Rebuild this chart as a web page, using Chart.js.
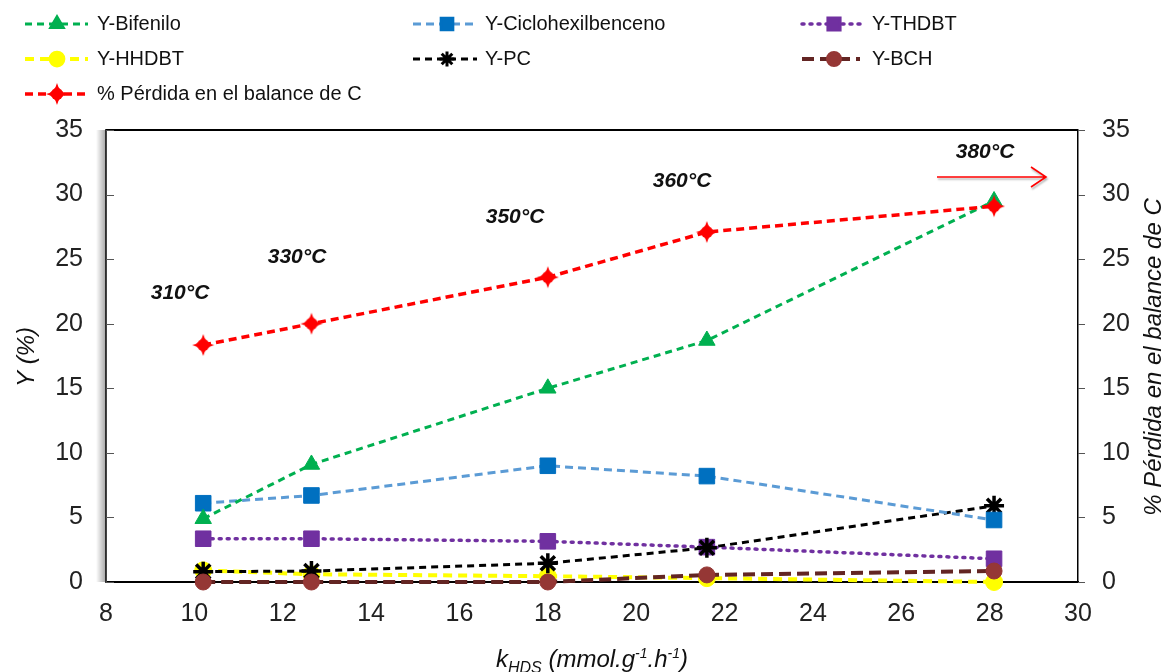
<!DOCTYPE html>
<html>
<head>
<meta charset="utf-8">
<script src="https://cdn.jsdelivr.net/npm/chart.js@4"></script>
<style>
  body { margin: 0; background: #fff; }
  #wrap { width: 1167px; height: 672px; position: relative; }
</style>
</head>
<body>
<div id="wrap"><canvas id="chart"></canvas></div>
<script>
// x values (k_HDS) and one array per series
const kHDS = [10.2, 12.65, 18.0, 21.6, 28.1];
const bifenilo = [4.9, 9.1, 15.0, 18.7, 29.5];
const ciclohexilbenceno = [6.1, 6.7, 9.0, 8.2, 4.8];
const thdbt = [3.35, 3.35, 3.15, 2.7, 1.8];
const hhdbt = [0.9, 0.6, 0.45, 0.3, 0.0];
const pc = [0.8, 0.85, 1.45, 2.65, 5.9];
const bch = [0.0, 0.0, 0.0, 0.55, 0.85];
const perdidaC = [18.35, 20.0, 23.6, 27.1, 29.1];

const tempLabels = ["310°C", "330°C", "350°C", "360°C", "380°C"];
const xTicks = [8, 10, 12, 14, 16, 18, 20, 22, 24, 26, 28, 30];

const AXIS_FONT = "Arial, 'Liberation Sans', sans-serif";

function pts(ys) {
  return kHDS.map((x, i) => ({ x, y: ys[i] }));
}

// concave four point marker for the red series
function makeStar(color, r) {
  const c = document.createElement("canvas");
  c.width = c.height = r * 2 + 2;
  const g = c.getContext("2d");
  const m = r + 1;
  g.fillStyle = color;
  g.beginPath();
  g.moveTo(m, m - r);
  g.quadraticCurveTo(m + 2, m - 2, m + r, m);
  g.quadraticCurveTo(m + 2, m + 2, m, m + r);
  g.quadraticCurveTo(m - 2, m + 2, m - r, m);
  g.quadraticCurveTo(m - 2, m - 2, m, m - r);
  g.fill();
  g.beginPath();
  g.arc(m, m, r * 0.55, 0, Math.PI * 2);
  g.fill();
  return c;
}
const redStar = makeStar("#FF0000", 11);

const series = [
  { label: "Y-Bifenilo", data: bifenilo, color: "#00B050", marker: "#00B050", dash: [7, 5], width: 3, style: "triangle", radius: 9.5, order: 1, col: 0, row: 0 },
  { label: "Y-Ciclohexilbenceno", data: ciclohexilbenceno, color: "#5B9BD5", marker: "#0070C0", dash: [8, 5], width: 3, style: "rect", radius: 11, order: 2, col: 1, row: 0 },
  { label: "Y-THDBT", data: thdbt, color: "#7030A0", marker: "#7030A0", dash: [2, 6], width: 3.5, style: "rect", radius: 11, order: 5, col: 2, row: 0, cap: "round" },
  { label: "Y-HHDBT", data: hhdbt, color: "#FFFF00", marker: "#FFFF00", dash: [9, 6], width: 4, style: "circle", radius: 8.5, order: 6, col: 0, row: 1 },
  { label: "Y-PC", data: pc, color: "#000000", marker: "#000000", dash: [7, 5], width: 3, style: "star", radius: 10, order: 4, col: 1, row: 1 },
  { label: "Y-BCH", data: bch, color: "#632523", marker: "#953735", dash: [12, 6], width: 4, style: "circle", radius: 8, order: 3, col: 2, row: 1 },
  { label: "% Pérdida en el balance de C", data: perdidaC, color: "#FF0000", marker: "#FF0000", dash: [8, 5], width: 3.5, style: redStar, radius: 11, order: 0, col: 0, row: 2, axis: "y2" },
];

const datasets = series.map((s) => ({
  label: s.label,
  data: pts(s.data),
  yAxisID: s.axis || "y",
  borderColor: s.color,
  borderWidth: s.width,
  borderDash: s.dash,
  borderCapStyle: s.cap || "butt",
  backgroundColor: s.marker,
  pointBackgroundColor: s.marker,
  pointBorderColor: s.marker,
  pointBorderWidth: s.style === "star" ? 3.5 : 1,
  pointStyle: s.style,
  pointRadius: s.radius,
  pointHoverRadius: s.radius,
  order: s.order,
  tension: 0,
  fill: false,
  clip: false,
}));

const legendCols = [
  { x0: 25, x1: 88, mx: 57, tx: 97 },
  { x0: 413, x1: 477, mx: 447, tx: 485 },
  { x0: 802, x1: 860, mx: 834, tx: 872 },
];
const legendRows = [24, 59, 94];

const decorPlugin = {
  id: "decor",
  beforeDatasetsDraw(chart) {
    const { ctx, chartArea: a } = chart;
    ctx.save();
    // shadow to the left of the value axis
    const grad = ctx.createLinearGradient(a.left - 10, 0, a.left, 0);
    grad.addColorStop(0, "rgba(0,0,0,0)");
    grad.addColorStop(1, "rgba(0,0,0,0.35)");
    ctx.fillStyle = grad;
    ctx.fillRect(a.left - 10, a.top, 10, a.bottom - a.top);
    ctx.restore();
  },
  afterDraw(chart) {
    const { ctx, chartArea: a, scales } = chart;
    ctx.save();

    // frame top line
    ctx.strokeStyle = "#000";
    ctx.lineWidth = 2;
    ctx.beginPath();
    ctx.moveTo(a.left, a.top);
    ctx.lineTo(a.right, a.top);
    ctx.stroke();

    // tick marks: left inward, right outward
    ctx.lineWidth = 1;
    ctx.strokeStyle = "#555";
    scales.y.ticks.forEach((t) => {
      const py = Math.round(scales.y.getPixelForValue(t.value)) + 0.5;
      ctx.beginPath();
      ctx.moveTo(a.left, py);
      ctx.lineTo(a.left + 8, py);
      ctx.stroke();
    });
    scales.y2.ticks.forEach((t) => {
      const py = Math.round(scales.y2.getPixelForValue(t.value)) + 0.5;
      ctx.beginPath();
      ctx.moveTo(a.right, py);
      ctx.lineTo(a.right + 7, py);
      ctx.stroke();
    });

    // axis titles
    ctx.fillStyle = "#111";
    ctx.textAlign = "center";
    ctx.textBaseline = "middle";
    ctx.font = "italic 24px " + AXIS_FONT;
    ctx.save();
    ctx.translate(27, 357);
    ctx.rotate(-Math.PI / 2);
    ctx.fillText("Y (%)", 0, 0);
    ctx.restore();

    ctx.save();
    ctx.translate(1154, 357);
    ctx.rotate(-Math.PI / 2);
    ctx.fillText("% Pérdida en el balance de C", 0, 0);
    ctx.restore();

    // x title with sub/superscripts
    const parts = [
      ["k", 24, 0], ["HDS", 16, 6], [" (mmol.g", 24, 0], ["-1", 14, -9], [".h", 24, 0], ["-1", 14, -9], [")", 24, 0],
    ];
    let total = 0;
    parts.forEach(([t, s]) => {
      ctx.font = "italic " + s + "px " + AXIS_FONT;
      total += ctx.measureText(t).width;
    });
    let cx = 592 - total / 2;
    ctx.textAlign = "left";
    ctx.textBaseline = "alphabetic";
    parts.forEach(([t, s, dy]) => {
      ctx.font = "italic " + s + "px " + AXIS_FONT;
      ctx.fillText(t, cx, 667 + dy);
      cx += ctx.measureText(t).width;
    });

    // temperature labels above the points of the red series
    const tempPos = [[180, 293], [297, 257], [515, 217], [682, 181], [985, 152]];
    ctx.font = "italic bold 21px " + AXIS_FONT;
    ctx.textAlign = "center";
    ctx.textBaseline = "middle";
    tempLabels.forEach((t, i) => ctx.fillText(t, tempPos[i][0], tempPos[i][1]));

    // arrow pointing to the right axis
    ctx.strokeStyle = "#FF0000";
    ctx.lineWidth = 1.6;
    ctx.shadowColor = "rgba(0,0,0,0.3)";
    ctx.shadowOffsetX = 1;
    ctx.shadowOffsetY = 2;
    ctx.shadowBlur = 2;
    ctx.beginPath();
    ctx.moveTo(937, 177);
    ctx.lineTo(1046, 177);
    ctx.moveTo(1031, 167);
    ctx.lineTo(1046, 177);
    ctx.lineTo(1031, 187);
    ctx.stroke();
    ctx.shadowColor = "transparent";

    // legend
    ctx.font = "20px " + AXIS_FONT;
    ctx.textAlign = "left";
    ctx.textBaseline = "middle";
    series.forEach((s) => {
      const c = legendCols[s.col];
      const y = legendRows[s.row];
      ctx.strokeStyle = s.color;
      ctx.lineWidth = s.width;
      ctx.lineCap = s.cap || "butt";
      ctx.setLineDash(s.dash);
      ctx.beginPath();
      ctx.moveTo(c.x0, y);
      ctx.lineTo(c.x1, y);
      ctx.stroke();
      ctx.setLineDash([]);
      ctx.lineCap = "butt";
      ctx.fillStyle = s.marker;
      ctx.strokeStyle = s.marker;
      Chart.helpers.drawPoint(ctx, {
        pointStyle: s.style,
        radius: s.radius * 0.75,
        rotation: 0,
        borderWidth: s.style === "star" ? 3.5 : 1,
      }, c.mx, y);
      ctx.fillStyle = "#111";
      ctx.fillText(s.label, c.tx, y);
    });

    ctx.restore();
  },
};

new Chart(document.getElementById("chart"), {
  type: "line",
  data: { datasets },
  options: {
    responsive: true,
    maintainAspectRatio: false,
    animation: false,
    layout: { padding: { top: 130, left: 0, right: 0, bottom: 0 } },
    plugins: { legend: { display: false }, tooltip: { enabled: false } },
    scales: {
      x: {
        type: "linear",
        min: 8,
        max: 30,
        afterBuildTicks: (s) => { s.ticks = xTicks.map((v) => ({ value: v })); },
        afterFit: (s) => { s.height = 90; },
        ticks: { font: { size: 25, family: AXIS_FONT }, color: "#222", padding: 17, maxRotation: 0, autoSkip: false },
        grid: { display: false, drawTicks: false },
        border: { display: true, color: "#000", width: 2 },
      },
      y: {
        position: "left",
        min: 0,
        max: 35,
        afterFit: (s) => { s.width = 106; },
        ticks: { stepSize: 5, font: { size: 25, family: AXIS_FONT }, color: "#222", padding: 23 },
        grid: { display: false, drawTicks: false },
        border: { display: true, color: "#444", width: 2 },
      },
      y2: {
        position: "right",
        min: 0,
        max: 35,
        afterFit: (s) => { s.width = 89; },
        ticks: { stepSize: 5, font: { size: 25, family: AXIS_FONT }, color: "#222", padding: 24 },
        grid: { display: false, drawTicks: false },
        border: { display: true, color: "#000", width: 1.5 },
      },
    },
  },
  plugins: [decorPlugin],
});
</script>
</body>
</html>
